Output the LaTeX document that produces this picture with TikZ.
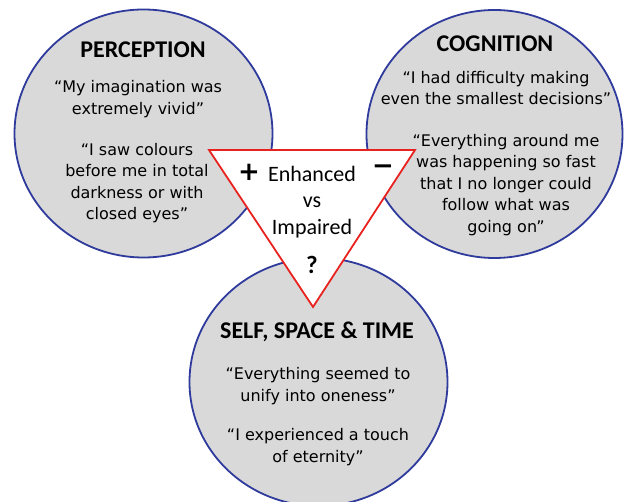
\documentclass[tikz,border=0pt]{standalone}
\usepackage{fontspec}
\setmainfont{Carlito}
\newfontfamily\quotefont{DejaVu Sans}
\newfontfamily\symfont{DejaVu Sans}
\usetikzlibrary{shapes.geometric}
\definecolor{circfill}{HTML}{D9D9D9}
\definecolor{circline}{HTML}{2E3A9C}
\definecolor{trired}{HTML}{E8231F}
\tikzset{
  bubble/.style={ellipse, draw=circline, fill=circfill, line width=1.8pt,
    minimum width=258pt, minimum height=248pt, inner sep=0pt},
  title/.style={font=\fontsize{24}{26}\selectfont\bfseries, text=black, inner sep=0pt},
  quote/.style={font=\quotefont\fontsize{16}{21.5}\selectfont, align=center, text=black, inner sep=0pt},
  tritext/.style={font=\fontsize{22}{26.5}\selectfont, align=center, inner sep=0pt},
  sign/.style={font=\symfont\bfseries\fontsize{26}{26}\selectfont, inner sep=0pt},
  tri/.style={draw=trired, fill=white, line width=1.8pt, line join=miter}
}
\begin{document}
\begin{tikzpicture}[x=1pt,y=-1pt]
\useasboundingbox (0,0) rectangle (625,502);
\begin{scope}
\clip (0,0) rectangle (625,502);
\node[bubble] (perc) at (143.5,133.5) {};
\node[bubble, minimum width=256pt] (cogn) at (494.5,134) {};
\node[bubble] (self) at (318.5,382) {};
\end{scope}
\coordinate (tA) at (209,150);
\coordinate (tB) at (415,150);
\coordinate (tC) at (313,307);
\draw[tri] (tA) -- (tB) -- (tC) -- cycle;

\node[title] (pt) at (143,50) {PERCEPTION};
\node[quote] (pq1) at (138,99) {“My imagination was\\extremely vivid”};
\node[quote] (pq2) at (137,183) {“I saw colours\\before me in total\\darkness or with\\closed eyes”};

\node[title] (ct) at (495,44) {COGNITION};
\node[quote] (cq1) at (496,88) {“I had difficulty making\\even the smallest decisions”};
\node[quote] (cq2) at (506,185) {“Everything around me\\was happening so fast\\that I no longer could\\follow what was\\going on”};

\node[title] (st) at (317,332) {SELF, SPACE \& TIME};
\node[quote] (sq1) at (318,386) {“Everything seemed to\\unify into oneness”};
\node[quote] (sq2) at (318,447) {“I experienced a touch\\of eternity”};

\node[tritext] (ev) at (312,202) {Enhanced\\vs\\Impaired};
\node[sign] (plus) at (249,172) {+};
\node[sign] (minus) at (383,170) {−};
\node[font=\fontsize{25}{25}\selectfont\bfseries, inner sep=0pt] (qm) at (312,265) {?};
\end{tikzpicture}
\end{document}
